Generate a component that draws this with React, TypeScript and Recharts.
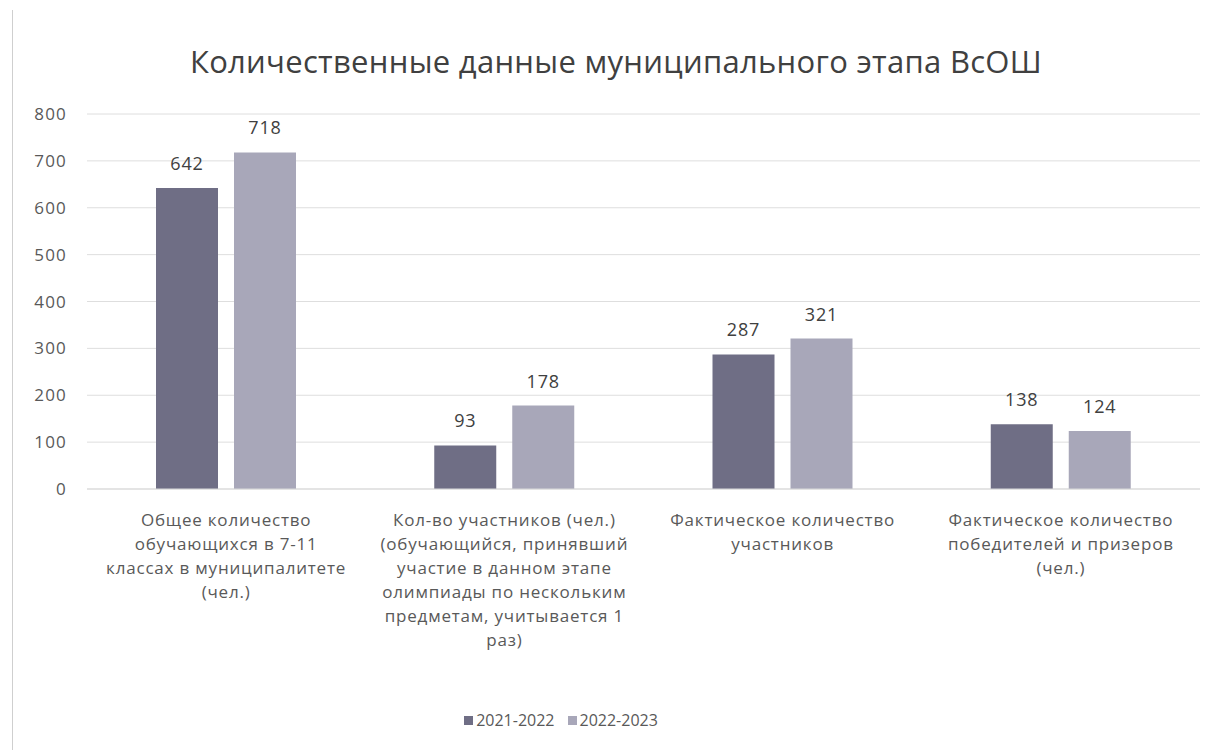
import { BarChart, Bar, XAxis, YAxis, CartesianGrid, Legend, LabelList } from 'recharts';

const categories = [
  'Общее количество обучающихся в 7-11 классах в муниципалитете (чел.)',
  'Кол-во участников (чел.) (обучающийся, принявший участие в данном этапе олимпиады по нескольким предметам, учитывается 1 раз)',
  'Фактическое количество участников',
  'Фактическое количество победителей и призеров (чел.)',
];

// tick labels split into lines as in the original
const categoryLines = [
  ['Общее количество', 'обучающихся в  7-11', 'классах в муниципалитете', '(чел.)'],
  ['Кол-во участников (чел.)', '(обучающийся, принявший', 'участие в данном этапе', 'олимпиады по нескольким', 'предметам, учитывается 1', 'раз)'],
  ['Фактическое количество', 'участников'],
  ['Фактическое количество', 'победителей и призеров', '(чел.)'],
];

const values2021 = [642, 93, 287, 138];
const values2022 = [718, 178, 321, 124];
const yTicks = [0, 100, 200, 300, 400, 500, 600, 700, 800];

const seriesNames = ['2021-2022', '2022-2023'];
const COLOR_A = '#6f6e85';
const COLOR_B = '#a8a7b9';
const FONT = '"Open Sans", Lato, sans-serif';

const data = categories.map((name, i) => ({
  name,
  idx: i,
  a: values2021[i],
  b: values2022[i],
}));

function CategoryTick({ x, y, payload }: any) {
  const lines = categoryLines[payload.index] ?? [String(payload.value)];
  return (
    <text
      x={x}
      y={y}
      textAnchor="middle"
      fill="#595959"
      fontSize={17}
      letterSpacing={0.8}
      fontFamily={FONT}
    >
      {lines.map((line, i) => (
        <tspan key={i} x={x} dy={i === 0 ? 29 : 24}>
          {line}
        </tspan>
      ))}
    </text>
  );
}

function LegendContent() {
  const colors = [COLOR_A, COLOR_B];
  return (
    <div
      style={{
        display: 'flex',
        justifyContent: 'center',
        gap: 13,
        height: 30,
        alignItems: 'center',
        fontFamily: FONT,
        fontSize: 16,
        color: '#595959',
        paddingRight: 78,
      }}
    >
      {seriesNames.map((s, i) => (
        <span key={s} style={{ display: 'flex', alignItems: 'center', gap: 3 }}>
          <span style={{ width: 9, height: 9, background: colors[i], display: 'inline-block' }} />
          {s}
        </span>
      ))}
    </div>
  );
}

export default function App() {
  return (
    <div
      style={{
        position: 'absolute',
        left: 0,
        top: 0,
        width: 1222,
        height: 750,
        background: '#ffffff',
        fontFamily: FONT,
      }}
    >
      <div
        style={{
          position: 'absolute',
          left: 12,
          top: 10,
          width: 1,
          height: 740,
          background: '#cfcfcf',
        }}
      />
      <div
        style={{
          position: 'absolute',
          top: 40,
          left: 0,
          width: 1232,
          textAlign: 'center',
          fontSize: 31,
          letterSpacing: 0.3,
          color: '#404040',
        }}
      >
        Количественные данные муниципального этапа ВсОШ
      </div>
      <BarChart
        width={1200}
        height={750}
        data={data}
        margin={{ top: 114, right: 0, left: 0, bottom: 15 }}
        barGap={16}
        barSize={62}
      >
        <CartesianGrid vertical={false} stroke="#dedede" />
        <XAxis
          dataKey="name"
          axisLine={{ stroke: '#d9d9d9' }}
          tickLine={false}
          height={216}
          interval={0}
          tick={<CategoryTick />}
        />
        <YAxis
          width={87}
          domain={[0, 800]}
          ticks={yTicks}
          axisLine={false}
          tickLine={false}
          tickSize={0}
          tickMargin={20}
          tick={{ fontSize: 17, fill: '#595959', fontFamily: FONT, letterSpacing: 1.2 }}
        />
        <Legend verticalAlign="bottom" content={<LegendContent />} />
        <Bar dataKey="a" name={seriesNames[0]} fill={COLOR_A} isAnimationActive={false}>
          <LabelList
            dataKey="a"
            position="top"
            offset={18}
            fill="#404040"
            fontSize={18}
            letterSpacing={0.8}
            fontFamily={FONT}
          />
        </Bar>
        <Bar dataKey="b" name={seriesNames[1]} fill={COLOR_B} isAnimationActive={false}>
          <LabelList
            dataKey="b"
            position="top"
            offset={18}
            fill="#404040"
            fontSize={18}
            letterSpacing={0.8}
            fontFamily={FONT}
          />
        </Bar>
      </BarChart>
    </div>
  );
}
